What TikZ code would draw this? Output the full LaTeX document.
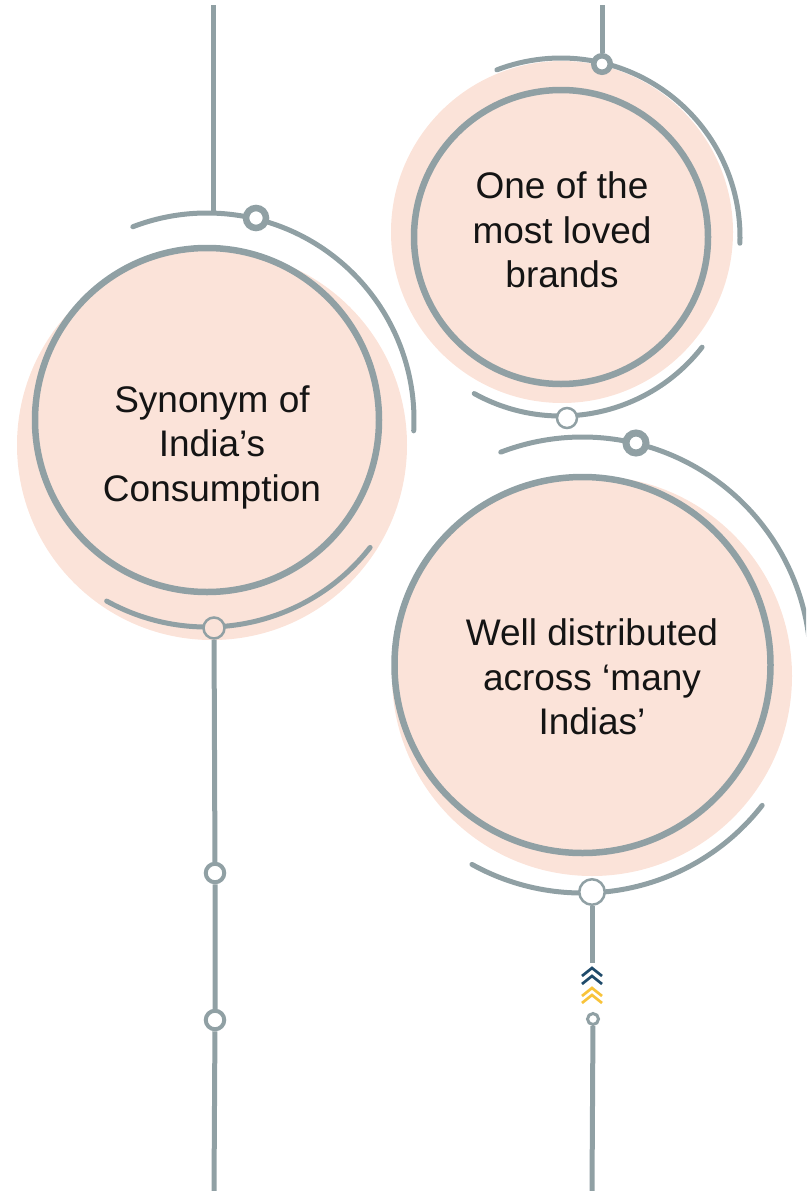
\documentclass[tikz,border=0pt]{standalone}
\usepackage{fontspec}
\setmainfont{Liberation Sans}
\definecolor{ringgray}{HTML}{90A0A4}
\definecolor{blush}{HTML}{FBE3D9}
\definecolor{navy}{HTML}{1F4B6B}
\definecolor{amber}{HTML}{F8C33A}
\tikzset{
  ring/.style={draw=ringgray,line width=6.5pt},
  halo/.style={draw=ringgray,line width=5pt,line cap=round},
  stem/.style={draw=ringgray,line width=5pt},
  knob/.style={circle,draw=ringgray,fill=white,line width=6pt,inner sep=0pt,minimum size=20pt},
  bead/.style={circle,draw=ringgray,fill=white,line width=2.5pt,inner sep=0pt},
  blurb/.style={align=center,font=\fontsize{37}{44.5}\selectfont,text=black!92}
}
\begin{document}
\begin{tikzpicture}[x=1pt,y=-1pt]
		\useasboundingbox (0,0) rectangle (806,1191);
		\clip (0,0) rectangle (806,1191);
		%
		% pink discs
		\fill[blush] (212,445) circle[radius=195];
		\fill[blush] (562,232) circle[radius=171];
		\fill[blush] (592,676) circle[radius=200];
		%
		% inner rings
		\draw[ring] (207,420) circle[radius=172];
		\draw[ring] (561,237) circle[radius=147];
		\draw[ring] (582.5,665) circle[radius=188];
		%
		% outer arcs (angles turn the other way, y points down)
		\draw[halo] (207,420) ++(-111:207) arc[start angle=-111,end angle=3,radius=207];
		\draw[halo] (207,420) ++(119:207) arc[start angle=119,end angle=38,radius=207];
		\draw[halo] (561,237) ++(-111:179) arc[start angle=-111,end angle=2,radius=179];
		\draw[halo] (561,237) ++(119:179) arc[start angle=119,end angle=38,radius=179];
		\draw[halo] (582.5,665) ++(-111:228) arc[start angle=-111,end angle=3,radius=228];
		\draw[halo] (582.5,665) ++(119:228) arc[start angle=119,end angle=38,radius=228];
		%
		% knobs on the arcs
		\node[knob,line width=6.5pt,minimum size=20pt] (ka) at (256,218) {};
		\node[bead,fill=blush,minimum size=21pt] (kb) at (214,628) {};
		\node[knob,line width=5.5pt,minimum size=16.5pt] (kc) at (602,64) {};
		\node[bead,minimum size=20pt] (kd) at (567,418) {};
		\node[knob,line width=7pt,minimum size=20pt] (ke) at (636,443) {};
		\node[bead,minimum size=25.5pt] (kf) at (592,892) {};
		%
		% beads along the stems
		\node[bead,line width=4pt,minimum size=18.5pt] (ra1) at (215,873) {};
		\node[bead,line width=4pt,minimum size=18.5pt] (ra2) at (215,1020) {};
		\node[bead,line width=3pt,minimum size=11pt] (rc) at (593,1019) {};
		%
		\coordinate (a0) at (213,5);
		\coordinate (a1) at (213,213);
		\coordinate (a2) at (214,1191);
		\coordinate (b0) at (602,5);
		\coordinate (c0) at (592,963);
		\coordinate (c1) at (592,1191);
		%
		% stems
		\draw[stem] (a0) -- (a1);
		\draw[stem] (kb) -- (ra1) -- (ra2) -- (a2);
		\draw[stem] (b0) -- (kc);
		\draw[stem] (kf) -- (c0);
		\draw[stem] (rc) -- (c1);
		%
		% chevrons
		\foreach \y/\col in {968/navy,976/navy,988/amber,995/amber}
		  \draw[\col,line width=2.7pt] (582,\y+8) -- (592,\y) -- (602,\y+8);
		%
		\node[blurb] (ta) at (212,447) {Synonym of\\India’s\\Consumption};
		\node[blurb] (tb) at (562,230) {One of the\\most loved\\brands};
		\node[blurb] (tc) at (592,677) {Well distributed\\across ‘many\\Indias’};
\end{tikzpicture}
\end{document}
